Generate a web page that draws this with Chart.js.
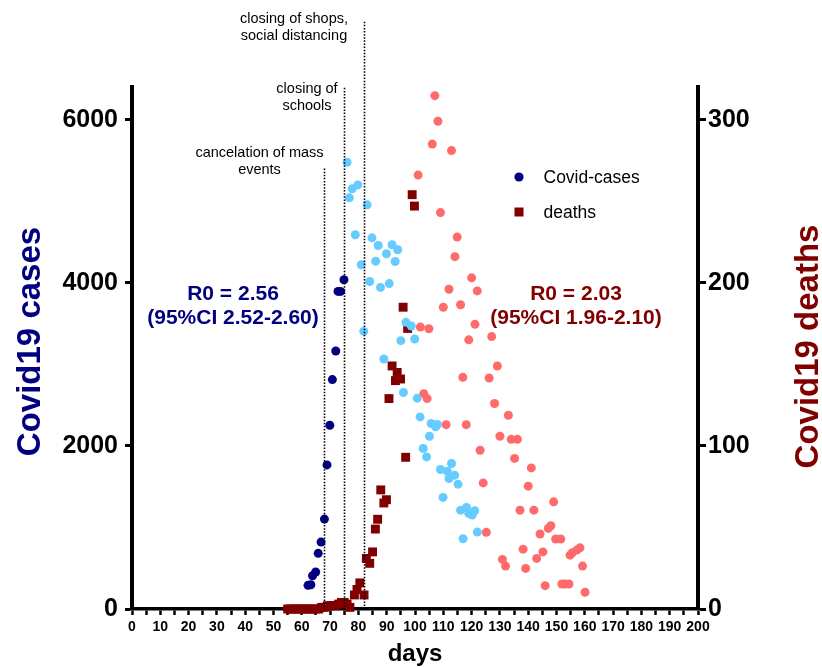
<!DOCTYPE html>
<html><head><meta charset="utf-8">
<script src="https://cdn.jsdelivr.net/npm/chart.js@4.4.1/dist/chart.umd.min.js"></script>
<style>html,body{margin:0;padding:0;background:#fff;} canvas{display:block;}</style>
</head><body>
<canvas id="c" width="822" height="667"></canvas>
<script>
// ---------- data ----------
// Covid-cases, early phase (left axis)
const earlyCaseDays   = [62.2, 63.2, 63.8, 64.9, 65.8, 66.8, 68.0, 68.9, 69.9, 70.8, 72.0, 72.8, 73.7, 74.9];
const earlyCaseValues = [290, 298, 408, 453, 682, 820, 1102, 1767, 2253, 2813, 3163, 3894, 3894, 4037];
// Covid-cases, later phase (left axis)
const lateCaseDays   = [76.0, 76.8, 77.8, 78.9, 79.8, 81.0, 81.9, 83.1, 84.0, 84.8, 86.1, 87.0, 87.8, 89.0, 89.9, 90.9, 91.9, 93.0, 93.9, 95.0, 95.9, 96.8, 98.7, 99.9, 100.8, 101.8, 102.9, 104.1, 105.1, 105.7, 107.3, 107.9, 109.0, 109.9, 111.4, 112.0, 112.9, 114.0, 115.2, 116.1, 117.0, 118.2, 119.0, 120.2, 121.1, 122.0];
const lateCaseValues = [5478, 5041, 5151, 4588, 5200, 4221, 3404, 4955, 4016, 4551, 4265, 4457, 3943, 3065, 4355, 3990, 4466, 4260, 4404, 3290, 2655, 3515, 3470, 3310, 2585, 2355, 1968, 1865, 2118, 2274, 2233, 2262, 1710, 1368, 1690, 1600, 1784, 1641, 1531, 1212, 861, 1245, 1172, 1151, 1204, 943];
// deaths, early phase (right axis, squares)
const earlyDeathDays   = [55, 56, 57, 58, 59, 60, 61, 62, 63, 64, 65, 66, 67, 68, 69, 70, 71, 72, 73, 74, 75, 76, 77, 78.6, 79.5, 80.5, 82.0, 82.8, 84.0, 85.0, 86.0, 86.8, 87.9, 89.0, 89.9, 90.8, 91.9, 93.1, 93.7, 94.9, 95.8, 96.7, 97.4, 99.0, 99.8];
const earlyDeathValues = [0, 0, 0, 0, 0, 0, 0, 0, 0, 0, 0, 0, 1, 1, 2, 2, 2, 2, 3, 4, 4, 3, 1, 8.6, 12, 16, 8.6, 31, 28, 35, 49, 55, 73, 65, 67, 129, 149, 140, 145, 141, 185, 93, 172, 254, 247];
// deaths, later phase (right axis, circles)
const lateDeathDays   = [101.1, 101.9, 103.1, 104.3, 104.9, 106.1, 107.0, 108.1, 109.0, 110.0, 111.0, 112.0, 112.9, 114.1, 114.9, 116.1, 116.9, 118.1, 119.0, 120.0, 121.2, 122.0, 123.0, 124.1, 125.2, 126.2, 127.1, 128.1, 129.1, 130.0, 130.9, 132.0, 133.0, 134.0, 135.2, 136.2, 137.1, 138.2, 139.1, 140.0, 141.1, 142.0, 143.0, 144.2, 145.2, 146.0, 147.1, 148.0, 149.0, 149.7, 151.5, 151.9, 153.0, 154.4, 154.8, 155.6, 157.2, 158.3, 159.2, 160.1];
const lateDeathValues = [266, 172.8, 132, 129, 171.8, 285, 314.7, 299, 243, 185, 113, 196, 281, 216, 228, 186.5, 142, 113, 165, 203, 174.5, 195, 97.3, 77.3, 47, 141.6, 167, 126, 149, 105.9, 30.4, 26.3, 118.8, 104, 92.3, 104, 60.6, 36.7, 24.9, 75.3, 86.5, 60.6, 31, 46, 35, 14.3, 49.4, 51, 65.7, 42.9, 42.9, 15.3, 15.3, 15.3, 33, 34.5, 36.1, 37.5, 26.3, 10.2];

// axes
const xMin = 0, xMax = 200, xMinorStep = 5, xLabelStep = 10;
const caseTicks = [0, 2000, 4000, 6000];
const caseMax = 6400;
const deathTicks = [0, 100, 200, 300];
const deathMax = 320;

// interventions
const interventionDays = [68, 75, 82];
const interventionTops = [5400, 6390, 7200];   // in case-axis units
const interventionLabels = [["cancelation of mass", "events"], ["closing of", "schools"], ["closing of shops,", "social distancing"]];

// texts
const caseTitle = "Covid19 cases", deathTitle = "Covid19 deaths", xTitle = "days";
const legendLabels = ["Covid-cases", "deaths"];
const r0Cases = ["R0 = 2.56", "(95%CI 2.52-2.60)"];
const r0Deaths = ["R0 = 2.03", "(95%CI 1.96-2.10)"];

// ---------- style ----------
const NAVY = '#000080', LIGHTBLUE = '#66CCFF', DARKRED = '#800000', LIGHTRED = '#FF6B6B';
const FONT = "'Liberation Sans', Arial, Helvetica, sans-serif";
const zip = (xs, ys) => xs.map((x, i) => ({x: x, y: ys[i]}));

const overlay = {
  id: 'overlay',
  afterDatasetsDraw(chart) {
    const ctx = chart.ctx, xs = chart.scales.x, ys = chart.scales.y;
    ctx.save();
    ctx.strokeStyle = '#000';
    ctx.lineWidth = 1.6;
    ctx.setLineDash([1.5, 1.6]);
    interventionDays.forEach((d, i) => {
      const px = Math.round(xs.getPixelForValue(d)) + 0.5;
      ctx.beginPath();
      ctx.moveTo(px, ys.getPixelForValue(interventionTops[i]));
      ctx.lineTo(px, ys.getPixelForValue(0));
      ctx.stroke();
    });
    ctx.restore();
  },
  afterDraw(chart) {
    const ctx = chart.ctx;
    ctx.save();
    // intervention labels
    ctx.fillStyle = '#000';
    ctx.font = "14.5px " + FONT;
    ctx.textAlign = 'center';
    ctx.textBaseline = 'alphabetic';
    const labelPos = [[259.5, 157], [307, 93], [294, 23]];
    interventionLabels.forEach((lines, i) => {
      lines.forEach((t, j) => ctx.fillText(t, labelPos[i][0], labelPos[i][1] + j * 17));
    });
    // axis titles
    ctx.font = "bold 33px " + FONT;
    ctx.textAlign = 'center';
    ctx.save();
    ctx.translate(40, 341.5); ctx.rotate(-Math.PI / 2);
    ctx.fillStyle = NAVY; ctx.fillText(caseTitle, 0, 0);
    ctx.restore();
    ctx.save();
    ctx.translate(818, 346.5); ctx.rotate(-Math.PI / 2);
    ctx.fillStyle = DARKRED; ctx.fillText(deathTitle, 0, 0);
    ctx.restore();
    ctx.fillStyle = '#000';
    ctx.font = "bold 24px " + FONT;
    ctx.fillText(xTitle, 415, 661);
    // R0 texts
    ctx.font = "bold 21px " + FONT;
    ctx.fillStyle = NAVY;
    ctx.fillText(r0Cases[0], 233, 300);
    ctx.fillText(r0Cases[1], 233, 324);
    ctx.fillStyle = DARKRED;
    ctx.fillText(r0Deaths[0], 576, 300);
    ctx.fillText(r0Deaths[1], 576, 324);
    // legend
    ctx.fillStyle = NAVY;
    ctx.beginPath(); ctx.arc(519, 177, 4.6, 0, Math.PI * 2); ctx.fill();
    ctx.fillStyle = DARKRED;
    ctx.fillRect(514.5, 207.5, 9, 9);
    ctx.fillStyle = '#000';
    ctx.font = "17.5px " + FONT;
    ctx.textAlign = 'left';
    ctx.fillText(legendLabels[0], 543.5, 183);
    ctx.fillText(legendLabels[1], 543.5, 218);
    ctx.restore();
  }
};

const xTickValues = [];
for (let v = xMin; v <= xMax; v += xMinorStep) xTickValues.push(v);

new Chart(document.getElementById('c'), {
  type: 'scatter',
  data: {
    datasets: [
      {label: 'Covid-cases', data: zip(earlyCaseDays, earlyCaseValues), yAxisID: 'y', backgroundColor: NAVY, pointRadius: 4.5, borderWidth: 0, order: 1, clip: false},
      {label: 'cases (later)', data: zip(lateCaseDays, lateCaseValues), yAxisID: 'y', backgroundColor: LIGHTBLUE, pointRadius: 4.5, borderWidth: 0, order: 2, clip: false},
      {label: 'deaths (later)', data: zip(lateDeathDays, lateDeathValues), yAxisID: 'y2', backgroundColor: LIGHTRED, pointRadius: 4.5, borderWidth: 0, order: 3, clip: false},
      {label: 'deaths', data: zip(earlyDeathDays, earlyDeathValues), yAxisID: 'y2', backgroundColor: DARKRED, pointStyle: 'rect', pointRadius: 6.3, borderWidth: 0, order: 4, clip: false}
    ]
  },
  options: {
    responsive: false,
    animation: false,
    devicePixelRatio: 1,
    layout: {padding: {top: 87, left: 0, right: 0, bottom: 0}},
    plugins: {legend: {display: false}, tooltip: {enabled: false}},
    scales: {
      x: {
        type: 'linear', min: xMin, max: xMax, position: 'bottom',
        afterBuildTicks: s => { s.ticks = xTickValues.map(v => ({value: v})); },
        afterFit: s => { s.height = 58; },
        border: {display: true, width: 3.5, color: '#000'},
        grid: {display: true, drawOnChartArea: false, drawTicks: true, tickLength: 6, tickWidth: 2.5, tickColor: '#000'},
        ticks: {autoSkip: false, maxRotation: 0, minRotation: 0, padding: 4, color: '#000',
          font: {family: FONT, size: 14, weight: 'bold'},
          callback: v => (v % xLabelStep === 0 ? String(v) : '')}
      },
      y: {
        type: 'linear', min: 0, max: caseMax, position: 'left',
        afterBuildTicks: s => { s.ticks = caseTicks.map(v => ({value: v})); },
        afterFit: s => { s.width = 132; },
        border: {display: true, width: 4, color: '#000'},
        grid: {display: true, drawOnChartArea: false, drawTicks: true, tickLength: 7, tickWidth: 3, tickColor: '#000'},
        ticks: {padding: 7, color: '#000', font: {family: FONT, size: 25, weight: 'bold'},
          callback: v => String(v)}
      },
      y2: {
        type: 'linear', min: 0, max: deathMax, position: 'right',
        afterBuildTicks: s => { s.ticks = deathTicks.map(v => ({value: v})); },
        afterFit: s => { s.width = 124; },
        border: {display: true, width: 4, color: '#000'},
        grid: {display: true, drawOnChartArea: false, drawTicks: true, tickLength: 8, tickWidth: 3, tickColor: '#000'},
        ticks: {padding: 2, color: '#000', font: {family: FONT, size: 25, weight: 'bold'},
          callback: v => String(v)}
      }
    }
  },
  plugins: [overlay]
});
</script>
</body></html>
